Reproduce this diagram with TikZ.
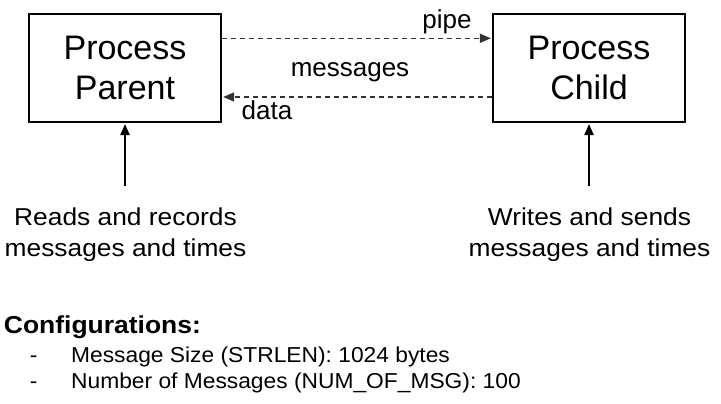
\documentclass[tikz,border=0pt]{standalone}
\usepackage{fontspec}
\setmainfont{Liberation Sans}
\newfontfamily\widesans[FakeStretch=1.08]{Liberation Sans}
\newfontfamily\listsans[FakeStretch=1.055]{Liberation Sans}
\usetikzlibrary{arrows.meta}
\begin{document}
\begin{tikzpicture}[x=1pt,y=-1pt,
  procbox/.style={draw,line width=2.4pt,minimum width=191.5pt,minimum height=107.6pt,inner sep=0pt,align=center,font=\fontsize{34}{40}\selectfont},
  dasharrow/.style={draw=black!80,line width=1.4pt,dash pattern=on 5.5pt off 3.5pt,-{Triangle[length=11pt,width=9pt]},shorten >=1.2pt},
  solidarrow/.style={draw=black,line width=1.3pt,-{Triangle[length=11pt,width=9.5pt]},shorten >=1.2pt},
  lbl/.style={inner sep=0pt,font=\fontsize{26}{30}\selectfont},
  note/.style={inner sep=0pt,align=center,font=\widesans\fontsize{24.4}{31}\selectfont},
  cfg/.style={inner sep=0pt,anchor=base west,font=\listsans\fontsize{21.6}{26}\selectfont}]
\useasboundingbox[fill=white] (0,0) rectangle (721,404);
\node[procbox] (parent) at (125,68) {Process\\Parent};
\node[procbox] (child) at (589,68) {Process\\Child};
\draw[dasharrow] ([yshift=29.7pt]parent.east) -- ([yshift=29.7pt]child.west);
\draw[dasharrow] ([yshift=-29pt]child.west) -- ([yshift=-29pt]parent.east);
\node[lbl,anchor=base] (pipe) at (447,28.3) {pipe};
\node[lbl,anchor=base] (msgs) at (350,76.7) {messages};
\node[lbl,anchor=base] (data) at (267,120) {data};
\node[note,anchor=north] (reads) at (125.5,207.8) {Reads and records\\messages and times};
\node[note,anchor=north] (writes) at (589.5,207.8) {Writes and sends\\messages and times};
\draw[solidarrow] ([yshift=22pt]reads.north -| parent.south) -- (parent.south);
\draw[solidarrow] ([yshift=22pt]writes.north -| child.south) -- (child.south);
\node[inner sep=0pt,anchor=base west,font=\widesans\bfseries\fontsize{24.5}{30}\selectfont] (conf) at (3.7,333.3) {Configurations:};
\node[cfg] (d1) at (29.6,362) {-};
\node[cfg] (d2) at (29.6,388.3) {-};
\node[cfg] (item1) at (71,362) {Message Size (STRLEN): 1024 bytes};
\node[cfg] (item2) at (71,388.3) {Number of Messages (NUM\_OF\_MSG): 100};
\end{tikzpicture}
\end{document}
